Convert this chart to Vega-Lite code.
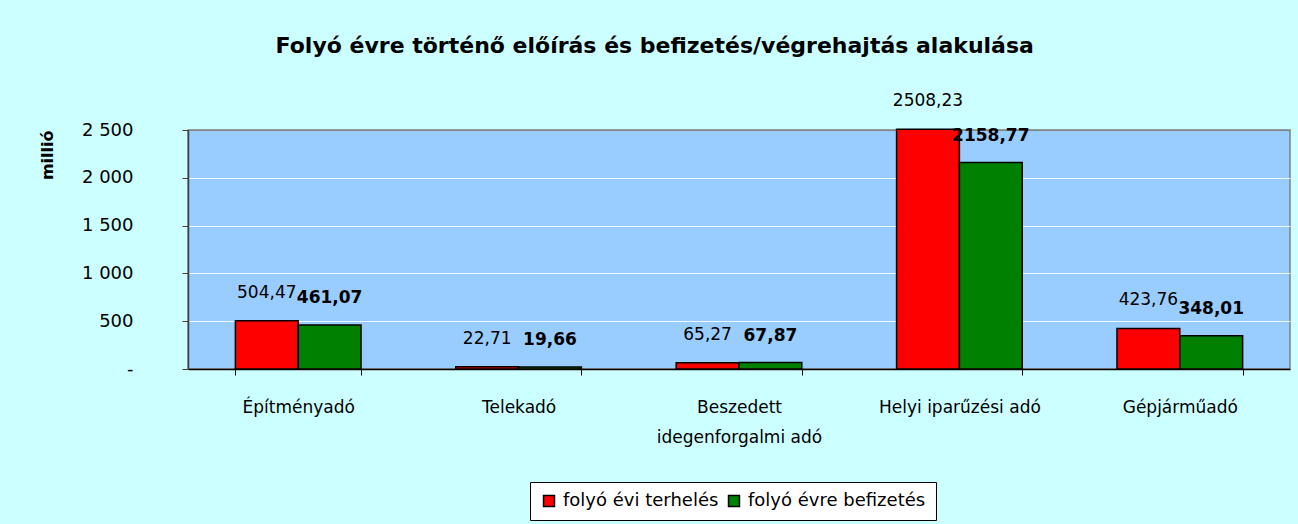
{
  "$schema": "https://vega.github.io/schema/vega-lite/v6.json",
  "width": 1102,
  "height": 239,
  "autosize": {"type": "none"},
  "padding": {"left": 188, "top": 130, "right": 8, "bottom": 155},
  "background": "#CCFFFF",
  "title": {
    "text": "Folyó évre történő előírás és befizetés/végrehajtás alakulása",
    "font": "Comic Sans MS, DejaVu Sans",
    "fontSize": 22,
    "fontWeight": "bold",
    "color": "black",
    "anchor": "middle",
    "frame": "bounds",
    "offset": 34,
    "dx": -10
  },
  "config": {
    "view": {"fill": "#99CCFF", "stroke": "#808080", "strokeWidth": 1.5},
    "locale": {"number": {"decimal": ",", "thousands": " ", "grouping": [3], "currency": ["", ""]}},
    "font": "Comic Sans MS, DejaVu Sans"
  },
  "data": {
    "values": [
      {"kategoria": "Építményadó", "sorozat": "folyó évi terhelés", "ertek": 504.47},
      {"kategoria": "Építményadó", "sorozat": "folyó évre befizetés", "ertek": 461.07},
      {"kategoria": "Telekadó", "sorozat": "folyó évi terhelés", "ertek": 22.71},
      {"kategoria": "Telekadó", "sorozat": "folyó évre befizetés", "ertek": 19.66},
      {"kategoria": "Beszedett idegenforgalmi adó", "sorozat": "folyó évi terhelés", "ertek": 65.27},
      {"kategoria": "Beszedett idegenforgalmi adó", "sorozat": "folyó évre befizetés", "ertek": 67.87},
      {"kategoria": "Helyi iparűzési adó", "sorozat": "folyó évi terhelés", "ertek": 2508.23},
      {"kategoria": "Helyi iparűzési adó", "sorozat": "folyó évre befizetés", "ertek": 2158.77},
      {"kategoria": "Gépjárműadó", "sorozat": "folyó évi terhelés", "ertek": 423.76},
      {"kategoria": "Gépjárműadó", "sorozat": "folyó évre befizetés", "ertek": 348.01}
    ]
  },
  "encoding": {
    "x": {
      "field": "kategoria",
      "type": "nominal",
      "sort": null,
      "scale": {"paddingInner": 0.43, "paddingOuter": 0.215},
      "axis": {
        "title": null,
        "labelAngle": 0,
        "tickBand": "extent",
        "tickSize": 6,
        "tickColor": "black",
        "tickWidth": 1,
        "domainColor": "black",
        "domainWidth": 1.5,
        "labelPadding": 24,
        "labelBaseline": "top",
        "labelFontSize": 17,
        "labelColor": "black",
        "labelLineHeight": 30,
        "labelExpr": "datum.value == 'Beszedett idegenforgalmi adó' ? ['Beszedett', 'idegenforgalmi adó'] : datum.value"
      }
    },
    "xOffset": {
      "field": "sorozat",
      "type": "nominal",
      "scale": {"domain": ["folyó évi terhelés", "folyó évre befizetés"]}
    },
    "y": {
      "field": "ertek",
      "type": "quantitative",
      "scale": {"domain": [0, 2500], "nice": false},
      "axis": {
        "values": [0, 500, 1000, 1500, 2000, 2500],
        "labelExpr": "datum.value == 0 ? '-\u00a0\u00a0\u00a0\u00a0' : format(datum.value, ',')",
        "labelFont": "DejaVu Sans",
        "labelFontSize": 18,
        "labelColor": "black",
        "labelPadding": 49,
        "tickSize": 6,
        "tickColor": "#404040",
        "domainColor": "#404040",
        "domainWidth": 1.5,
        "gridColor": {"condition": {"test": "datum.value == 2500", "value": "#808080"}, "value": "#FFFFFF"},
        "gridOpacity": 0.85,
        "title": "millió",
        "titleAnchor": "end",
        "titleFontWeight": "bold",
        "titleFontSize": 16,
        "titleColor": "black",
        "titlePadding": 26
      }
    }
  },
  "layer": [
    {
      "mark": {"type": "bar", "stroke": "black", "strokeWidth": 1.5},
      "encoding": {
        "color": {
          "field": "sorozat",
          "type": "nominal",
          "scale": {"domain": ["folyó évi terhelés", "folyó évre befizetés"], "range": ["#FF0000", "#008000"]},
          "legend": {
            "title": null,
            "orient": "none",
            "legendX": 342,
            "legendY": 352,
            "direction": "horizontal",
            "fillColor": "white",
            "strokeColor": "black",
            "padding": 10,
            "labelFontSize": 18,
            "labelLimit": 400,
            "labelColor": "black",
            "symbolType": "square",
            "symbolSize": 120,
            "symbolStrokeColor": "black",
            "symbolStrokeWidth": 1.5,
            "symbolOpacity": 1,
            "columnPadding": 6,
            "labelOffset": 5
          }
        }
      }
    },
    {
      "transform": [{"filter": "datum.sorozat == 'folyó évi terhelés'"}],
      "mark": {"type": "text", "baseline": "middle", "dy": -28, "fontSize": 17, "color": "black"},
      "encoding": {"text": {"field": "ertek", "type": "quantitative", "format": ".2f"}}
    },
    {
      "transform": [{"filter": "datum.sorozat == 'folyó évre befizetés'"}],
      "mark": {"type": "text", "baseline": "middle", "dy": -27, "fontSize": 17, "fontWeight": "bold", "color": "black"},
      "encoding": {"text": {"field": "ertek", "type": "quantitative", "format": ".2f"}}
    }
  ]
}
